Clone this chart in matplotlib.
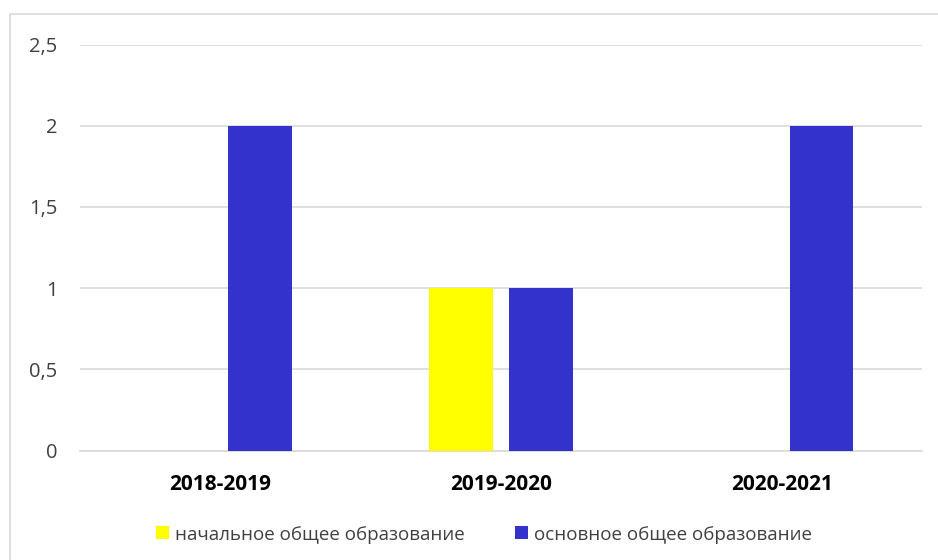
import numpy as np
import matplotlib
matplotlib.use('Agg')
import matplotlib.pyplot as plt
from matplotlib.patches import Rectangle

years = ['2018-2019', '2019-2020', '2020-2021']
primary = [0, 1, 0]
basic = [2, 1, 2]
series_names = ['начальное общее образование', 'основное общее образование']
colors = ['#FFFF00', '#3333CC']

plt.rcParams['font.family'] = ['Open Sans', 'DejaVu Sans']

fig = plt.figure(figsize=(9.38, 5.6), dpi=100)
ax = fig.add_axes([80/938, 1 - 450.5/560, 842/938, 406/560])

# рамка вокруг диаграммы
fig.patches.append(Rectangle((10/938, -0.05), 1.2, 1 - 14/560 + 0.05,
                             transform=fig.transFigure, fill=False,
                             edgecolor='#d9d9d9', linewidth=1.2))

x = np.arange(len(years))
w = 0.226
off = 0.142
ax.bar(x - off, primary, w, color=colors[0], label=series_names[0], zorder=3)
ax.bar(x + off, basic, w, color=colors[1], label=series_names[1], zorder=3)

ax.set_xlim(-0.5, 2.5)
ax.set_ylim(0, 2.5)
ax.set_yticks([0, 0.5, 1, 1.5, 2, 2.5])
ax.set_yticklabels(['0', '0,5', '1', '1,5', '2', '2,5'])
ax.set_xticks(x)
ax.set_xticklabels(years, fontweight='bold', color='black')

ax.grid(axis='y', color='#d9d9d9', linewidth=1.2, zorder=0)
for s in ['top', 'right', 'left']:
    ax.spines[s].set_visible(False)
ax.spines['bottom'].set_color('#d9d9d9')
ax.spines['bottom'].set_linewidth(1.2)
ax.tick_params(axis='both', length=0)
ax.tick_params(axis='y', pad=16.3, labelcolor='#404040', labelsize=14.5)
ax.tick_params(axis='x', pad=17, labelsize=15)

ax.legend(loc='center', bbox_to_anchor=(0.48, -0.207), ncol=2, frameon=False,
          fontsize=13.5, handlelength=0.69, handleheight=0.69,
          handletextpad=0.32, columnspacing=2.7, labelcolor='#404040')

fig.savefig('out.png', dpi=100)
